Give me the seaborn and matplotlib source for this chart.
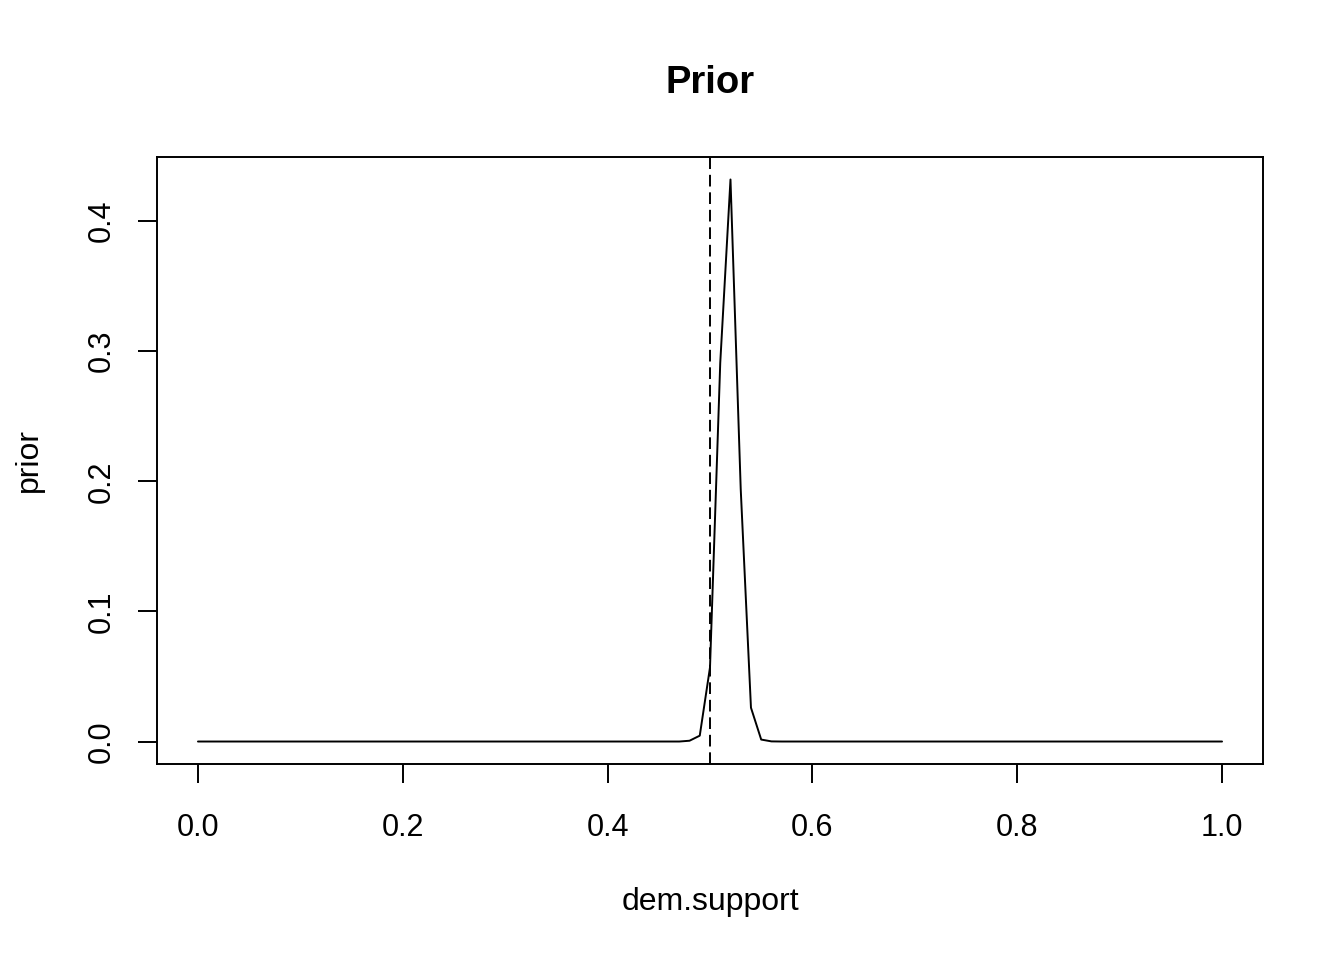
import numpy as np
import pandas as pd
import matplotlib
matplotlib.use("Agg")
import matplotlib.pyplot as plt
import seaborn as sns

# Style: plain white with ticks, R base-graphics look
sns.set_style("ticks")
plt.rcParams['font.family'] = ['Liberation Sans', 'DejaVu Sans']
plt.rcParams['text.color'] = 'black'
plt.rcParams['axes.labelcolor'] = 'black'
plt.rcParams['xtick.bottom'] = True
plt.rcParams['ytick.left'] = True

# grid of dem.support values, 0.00 .. 1.00 by 0.01
dem_support = np.round(np.arange(0, 101) / 100, 2)

# prior mass (zero outside 0.48..0.56)
peak_x = [0.48, 0.49, 0.50, 0.51, 0.52, 0.53, 0.54, 0.55, 0.56]
peak_p = [0.0006, 0.0045, 0.057, 0.291, 0.432, 0.194, 0.026, 0.0015, 0.0001]

prior = np.zeros(len(dem_support))
for px, pv in zip(peak_x, peak_p):
    prior[int(round(px * 100))] = pv

df = pd.DataFrame({'dem.support': dem_support, 'prior': prior})

x_ticks = [0.0, 0.2, 0.4, 0.6, 0.8, 1.0]
y_ticks = [0.0, 0.1, 0.2, 0.3, 0.4]
cutoff = 0.5

fig = plt.figure(figsize=(13.44, 9.6), dpi=100)
ax = fig.add_axes([157 / 1344, 1 - 764 / 960, (1263 - 157) / 1344, (764 - 157) / 960])

sns.lineplot(data=df, x='dem.support', y='prior', ax=ax, color='black', linewidth=1.4)
ax.axvline(cutoff, color='black', linestyle=(0, (6, 3)), linewidth=1.4)

# R-style 4% axis expansion
ymax = df['prior'].max()
ax.set_xlim(-0.04, 1.04)
ax.set_ylim(-0.04 * ymax, ymax * 1.04)

ax.set_xticks(x_ticks)
ax.set_xticklabels([f"{v:.1f}" for v in x_ticks])
ax.set_yticks(y_ticks)
ax.set_yticklabels([f"{v:.1f}" for v in y_ticks], rotation=90, va='center')
ax.xaxis.set_ticks_position('bottom')
ax.yaxis.set_ticks_position('left')
ax.tick_params(axis='both', which='major', direction='out', length=14, width=1.4,
               labelsize=22, color='black', labelcolor='black')
ax.tick_params(axis='x', pad=21)
ax.tick_params(axis='y', pad=15)

for s in ax.spines.values():
    s.set_visible(True)
    s.set_color('black')
    s.set_linewidth(1.4)

ax.set_xlabel('dem.support', fontsize=23, labelpad=32)
ax.set_ylabel('prior', fontsize=23, labelpad=30.5)
ax.set_title('Prior', fontsize=27.5, fontweight='bold', pad=46)

fig.savefig('out.png', dpi=100, facecolor='white')
